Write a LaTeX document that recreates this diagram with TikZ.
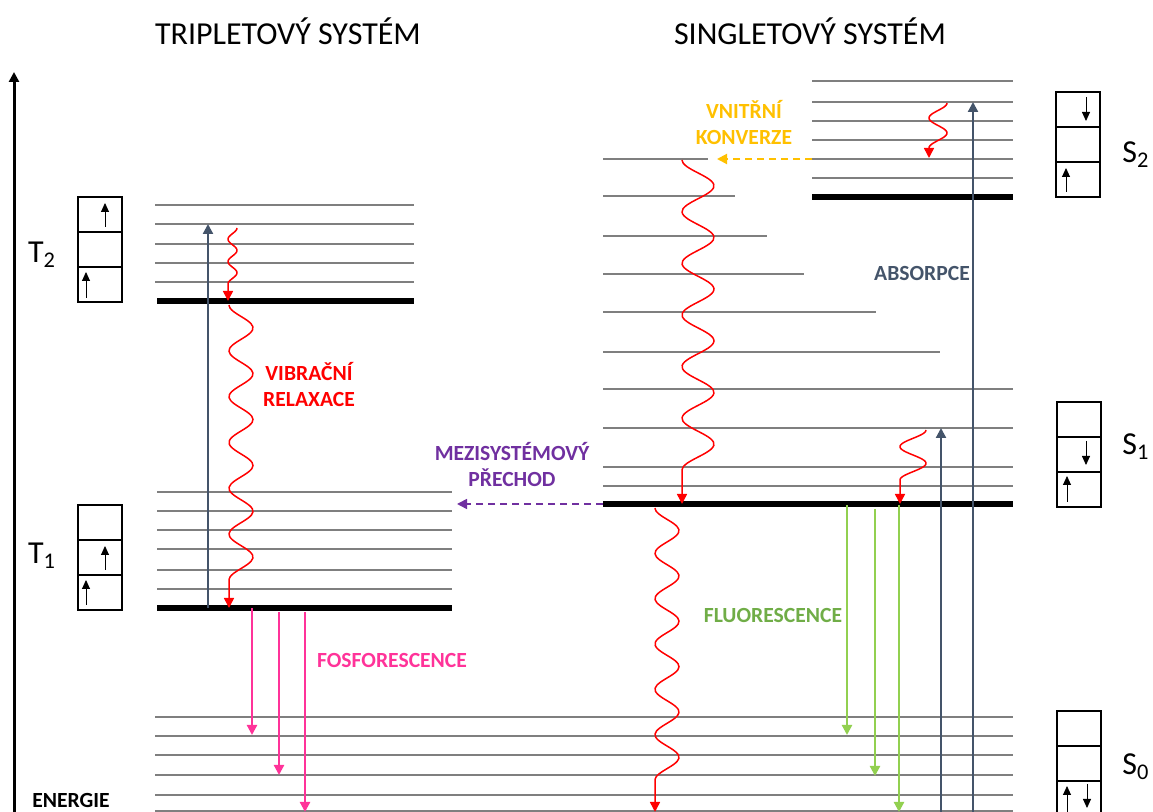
\documentclass[tikz,border=0pt]{standalone}
\usepackage{fontspec}
\setmainfont{Carlito}
\usetikzlibrary{arrows.meta}

\definecolor{absblue}{HTML}{44546A}
\definecolor{fospink}{HTML}{FF3399}
\definecolor{fluogreen}{HTML}{92D050}
\definecolor{fluotext}{HTML}{70AD47}
\definecolor{konvorange}{HTML}{FFC000}
\definecolor{iscpurple}{HTML}{7030A0}
\definecolor{levelgray}{HTML}{7F7F7F}

% wave: x, y start, y end of wave, y of arrow tip, amplitude, half waves, side
\newcommand{\relaxwave}[7]{%
  \draw[wavy] plot[smooth,domain=0:1,samples=90,variable=\t]
    ({#1+#7*#5*(1-cos(180*#6*\t))},{#2+(#3-#2)*\t})
    -- ({#1+#7*#5*(1-cos(180*#6))},#4);}

\begin{document}
\begin{tikzpicture}[x=0.5pt,y=-0.5pt,
  sublevel/.style={levelgray,line width=1.15pt},
  groundlevel/.style={black,line width=2.7pt},
  photon/.style={line width=1.1pt,-{Triangle[length=5pt,width=5pt]}},
  wavy/.style={red,line width=0.75pt,-{Triangle[length=5pt,width=5pt]}},
  spin/.style={black,line width=0.45pt,-{Triangle[length=4.5pt,width=4pt]}},
  proc/.style={font=\bfseries\fontsize{10.8}{13}\selectfont,align=center,inner sep=0pt},
  headline/.style={font=\fontsize{16}{19}\selectfont,inner sep=0pt}]
\useasboundingbox (0,0) rectangle (1153,812);

% Titles and energy axis
\node[headline] (trip) at (288,31) {TRIPLETOVÝ SYSTÉM};
\node[headline] (sing) at (810,31) {SINGLETOVÝ SYSTÉM};
\draw[line width=1.5pt,-{Triangle[length=5pt,width=5pt]}] (14,812) -- (14,72);
\node[proc] (en) at (71,800) {ENERGIE};

% Triplet levels
\foreach \y in {205,224,244,263,282} \draw[sublevel] (155,\y) -- (414,\y);
\draw[groundlevel] (157,301) -- (414,301);
\foreach \y in {492,511,530,549,570,589} \draw[sublevel] (157,\y) -- (452,\y);
\draw[groundlevel] (157,608) -- (452,608);

% Singlet levels
\foreach \y in {81,102,121,140,159,178} \draw[sublevel] (812,\y) -- (1013,\y);
\draw[groundlevel] (812,197) -- (1013,197);
\foreach \y/\xe in {159/708,196/735,236/767,274/804,312/876,352/940,389/1013,428/1013,467/1013,486/1013}
  \draw[sublevel] (603,\y) -- (\xe,\y);
\draw[groundlevel] (603,504) -- (1013,504);
\foreach \y in {717,736,755,775,795,811} \draw[sublevel] (155,\y) -- (1013,\y);

% Electron boxes
\foreach \bx/\by in {78/197,78/505,1056/92,1057/402,1057/711}
  \foreach \k in {0,1,2}
    \draw[line width=0.7pt] (\bx,{\by+35*\k}) rectangle ++(44,35);
\draw[spin] (105,227) -- (105,203);
\draw[spin] (86,298) -- (86,272);
\draw[spin] (105,570) -- (105,546);
\draw[spin] (86,605) -- (86,580);
\draw[spin] (1086,97) -- (1086,121);
\draw[spin] (1066,192) -- (1066,168);
\draw[spin] (1086,441) -- (1086,465);
\draw[spin] (1067,502) -- (1067,476);
\draw[spin] (1067,812) -- (1067,786);
\draw[spin] (1087,784) -- (1087,808);

\node[headline] (t2) at (42,255) {T\textsubscript{2}};
\node[headline] (t1) at (42,556) {T\textsubscript{1}};
\node[headline] (s2) at (1136,155) {S\textsubscript{2}};
\node[headline] (s1) at (1136,447) {S\textsubscript{1}};
\node[headline] (s0) at (1136,767) {S\textsubscript{0}};

% Absorption
\draw[photon,absblue] (208,608) -- (208,224);
\draw[photon,absblue] (941,812) -- (941,428);
\draw[photon,absblue] (973,812) -- (973,102);
\node[proc,absblue] (abs) at (922,273) {ABSORPCE};

% Vibrational relaxation and internal conversion
\relaxwave{237}{228}{284}{301}{4.5}{5}{-1}
\relaxwave{229}{305}{580}{608}{12}{12}{1}
\relaxwave{947}{103}{148}{158}{9}{3}{-1}
\relaxwave{682}{160}{470}{504}{16}{12}{1}
\relaxwave{926}{430}{480}{504}{13}{3}{-1}
\relaxwave{655}{508}{780}{812}{12}{12}{1}
\node[proc,red] (vib) at (309,385) {VIBRAČNÍ\\RELAXACE};
\draw[konvorange,line width=1pt,dash pattern=on 3.5pt off 2.5pt,-{Triangle[length=5pt,width=5pt]}] (812,159) -- (717,159);
\node[proc,konvorange] (ic) at (744,123) {VNITŘNÍ\\KONVERZE};

% Intersystem crossing
\draw[iscpurple,line width=0.8pt,dash pattern=on 3.5pt off 2.5pt,-{Triangle[length=5pt,width=5pt]}] (603,504) -- (457,504);
\node[proc,iscpurple] (isc) at (512,465) {MEZISYSTÉMOVÝ\\PŘECHOD};

% Phosphorescence
\draw[photon,fospink] (252,608) -- (252,735);
\draw[photon,fospink] (279,612) -- (279,775);
\draw[photon,fospink] (305,612) -- (305,812);
\node[proc,fospink] (fos) at (392,660) {FOSFORESCENCE};

% Fluorescence
\draw[photon,fluogreen] (847,505) -- (847,735);
\draw[photon,fluogreen] (875,509) -- (875,776);
\draw[photon,fluogreen] (899,505) -- (899,812);
\node[proc,fluotext] (fluo) at (773,615) {FLUORESCENCE};

\end{tikzpicture}
\end{document}
